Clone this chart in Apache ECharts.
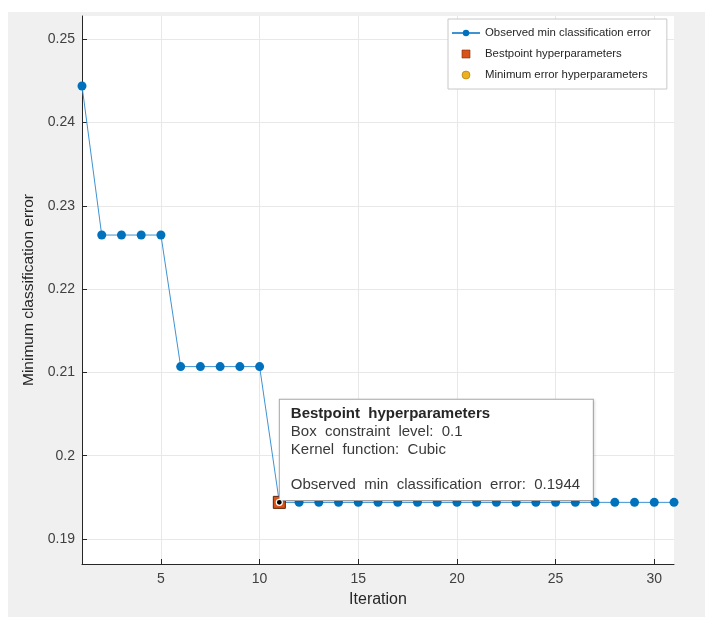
<!DOCTYPE html>
<html>
<head>
<meta charset="utf-8">
<script src="https://cdn.jsdelivr.net/npm/echarts@6/dist/echarts.min.js"></script>
<style>
  html, body { margin: 0; padding: 0; background: #ffffff; }
  #chart { width: 705px; height: 617px; }
</style>
</head>
<body>
<div id="chart"></div>
<script>
// Observed minimum classification error per optimisation iteration
const iterations = [1, 2, 3, 4, 5, 6, 7, 8, 9, 10, 11, 12, 13, 14, 15, 16,
  17, 18, 19, 20, 21, 22, 23, 24, 25, 26, 27, 28, 29, 30, 31];
const minError = [0.2444, 0.2265, 0.2265, 0.2265, 0.2265,
  0.2107, 0.2107, 0.2107, 0.2107, 0.2107,
  0.1944, 0.1944, 0.1944, 0.1944, 0.1944, 0.1944, 0.1944, 0.1944, 0.1944, 0.1944,
  0.1944, 0.1944, 0.1944, 0.1944, 0.1944, 0.1944, 0.1944, 0.1944, 0.1944, 0.1944, 0.1944];

// Best point found by the optimiser
const bestIteration = 11;
const bestError = 0.1944;
const bestBoxConstraint = '0.1';
const bestKernel = 'Cubic';

// Axis ticks
const xTicks = [5, 10, 15, 20, 25, 30];
const yTicks = [0.19, 0.2, 0.21, 0.22, 0.23, 0.24, 0.25];

const FONT = "'Liberation Sans', Arial, Helvetica, sans-serif";
const SQUARE = 'path://M0,0L10,0L10,10L0,10Z';

const chart = echarts.init(document.getElementById('chart'), null, { renderer: 'canvas' });

const lineData = iterations.map((it, i) => [it, minError[i]]);

chart.setOption({
  animation: false,
  backgroundColor: '#ffffff',
  graphic: [{
    type: 'rect',
    z: -10,
    silent: true,
    shape: { x: 8, y: 12, width: 697, height: 605 },
    style: { fill: '#f0f0f0' }
  }],
  grid: {
    left: 82, right: 31, top: 16, bottom: 53,
    show: true, backgroundColor: '#ffffff', borderWidth: 0
  },
  legend: {
    orient: 'vertical',
    left: 448, top: 19,
    data: [
      { name: 'Observed min classification error' },
      { name: 'Bestpoint hyperparameters', icon: SQUARE, itemStyle: { borderColor: '#7a2e0c', borderWidth: 0.6 } },
      { name: 'Minimum error hyperparameters', icon: 'circle', itemStyle: { borderColor: '#a07400', borderWidth: 0.6 } }
    ],
    backgroundColor: '#ffffff',
    borderColor: '#c8c8c8',
    borderWidth: 1,
    borderRadius: 0,
    padding: [7, 16, 7, 3],
    itemWidth: 28,
    itemHeight: 8,
    itemGap: 7,
    textStyle: { fontFamily: FONT, fontSize: 11.4, color: '#262626', lineHeight: 14 }
  },
  xAxis: {
    type: 'value',
    min: 1, max: 31,
    name: 'Iteration',
    nameLocation: 'middle',
    nameGap: 28,
    nameTextStyle: { fontFamily: FONT, fontSize: 16, color: '#262626' },
    axisLine: { show: true, onZero: false, lineStyle: { color: '#262626', width: 1 } },
    axisTick: { show: true, inside: true, length: 5, customValues: xTicks, lineStyle: { color: '#262626' } },
    axisLabel: { customValues: xTicks, fontFamily: FONT, fontSize: 14, color: '#404040', margin: 8 },
    splitLine: { show: true, lineStyle: { color: '#e8e8e8', width: 1 } }
  },
  yAxis: {
    type: 'value',
    min: 0.187, max: 0.2528,
    name: 'Minimum classification error',
    nameLocation: 'middle',
    nameGap: 41,
    nameTextStyle: { fontFamily: FONT, fontSize: 15.5, color: '#262626' },
    axisLine: { show: true, onZero: false, lineStyle: { color: '#262626', width: 1 } },
    axisTick: { show: true, inside: true, length: 5, customValues: yTicks, lineStyle: { color: '#262626' } },
    axisLabel: {
      customValues: yTicks, fontFamily: FONT, fontSize: 14, color: '#404040', margin: 7,
      formatter: v => String(Math.round(v * 100) / 100)
    },
    splitLine: { show: true, lineStyle: { color: '#e8e8e8', width: 1 } }
  },
  series: [
    {
      name: 'Observed min classification error',
      type: 'line',
      data: lineData,
      symbol: 'circle',
      symbolSize: 9,
      itemStyle: { color: '#0072BD' },
      lineStyle: { color: '#3f93d3', width: 1 },
      z: 3
    },
    {
      name: 'Minimum error hyperparameters',
      type: 'scatter',
      data: [[bestIteration, bestError]],
      symbol: 'circle',
      symbolSize: 8,
      itemStyle: { color: '#EDB120', opacity: 1 },
      z: 2
    },
    {
      name: 'Bestpoint hyperparameters',
      type: 'scatter',
      data: [{
        value: [bestIteration, bestError],
        label: {
          show: true,
          position: [7, -96],
          align: 'left',
          verticalAlign: 'top',
          backgroundColor: '#ffffff',
          borderColor: '#a8a8a8',
          borderWidth: 1,
          padding: [5, 10, 6, 11],
          width: 292,
          shadowColor: 'rgba(0,0,0,0.12)',
          shadowBlur: 3,
          shadowOffsetX: 1,
          shadowOffsetY: 1,
          formatter: [
            '{t|Bestpoint  hyperparameters}',
            '{l|Box  constraint  level:  ' + bestBoxConstraint + '}',
            '{l|Kernel  function:  ' + bestKernel + '}',
            '{l| }',
            '{l|Observed  min  classification  error:  ' + bestError.toFixed(4) + '}'
          ].join('\n'),
          rich: {
            t: { fontFamily: FONT, fontSize: 15, fontWeight: 'bold', color: '#262626', lineHeight: 18 },
            l: { fontFamily: FONT, fontSize: 15, color: '#3a3a3a', lineHeight: 17.8 }
          }
        }
      }],
      symbol: 'rect',
      symbolSize: 12,
      itemStyle: { color: '#D95319', borderColor: '#5a2208', borderWidth: 1, opacity: 1 },
      z: 5
    },
    {
      name: 'datatip',
      type: 'scatter',
      data: [[bestIteration, bestError]],
      symbol: 'circle',
      symbolSize: 6,
      itemStyle: { color: '#000000', borderColor: '#ffffff', borderWidth: 1.2, opacity: 1 },
      silent: true,
      z: 6
    }
  ]
});
</script>
</body>
</html>
